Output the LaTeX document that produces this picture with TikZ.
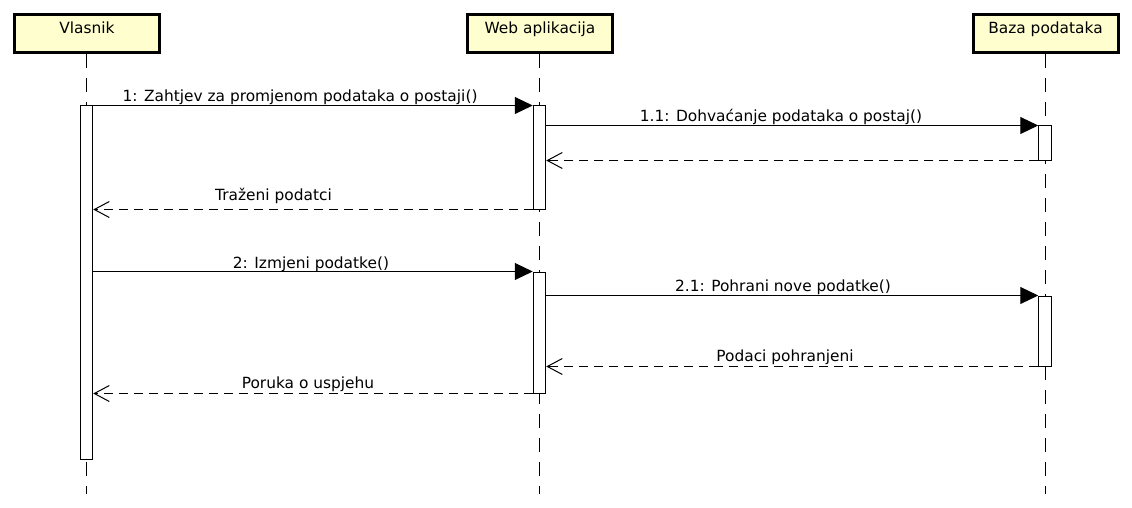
\documentclass[tikz,border=0pt]{standalone}
\usepackage{fontspec}
\setmainfont{DejaVu Sans}
\usetikzlibrary{arrows.meta}
\definecolor{headfill}{HTML}{FEFECE}
\begin{document}
\begin{tikzpicture}[x=1pt,y=-1pt,
  font=\fontsize{15.4}{18}\selectfont,
  actor/.style={draw, line width=3pt, fill=headfill, minimum width=145pt,
    minimum height=38pt, inner sep=0pt, text height=11pt, text depth=10pt},
  lifeline/.style={line width=1pt, dash pattern=on 14pt off 10pt},
  actbar/.style={draw, line width=1pt, fill=white, minimum width=12.5pt, inner sep=0pt},
  call/.style={line width=1pt, -{Triangle[length=18pt,width=17pt]}},
  reply/.style={line width=1pt, dash pattern=on 9pt off 6pt,
    -{Straight Barb[length=15pt,width=16pt,line width=1pt]}},
  msg/.style={anchor=base, inner sep=0pt}
]
\useasboundingbox (0,0) rectangle (1132,508);

% headers
\node[actor] (vl) at (87,33.5) {Vlasnik};
\node[actor] (wa) at (540,33.5) {Web aplikacija};
\node[actor] (bz) at (1045.5,33.5) {Baza podataka};

% lifelines
\coordinate (vlend) at (86.5,494);
\coordinate (waend) at (539.5,494);
\coordinate (bzend) at (1045.5,494);
\draw[lifeline] (vl.south -| vlend) -- (vlend);
\draw[lifeline] (wa.south -| waend) -- (waend);
\draw[lifeline] (bz.south -| bzend) -- (bzend);

% activation bars
\node[actbar, minimum height=353pt] (vlbar) at (86.5,282.5) {};
\node[actbar, minimum height=103pt] (wa1) at (539.5,157.5) {};
\node[actbar, minimum height=121pt] (wa2) at (539.5,332.5) {};
\node[actbar, minimum height=34pt] (bz1) at (1045,143) {};
\node[actbar, minimum height=70pt] (bz2) at (1045,331) {};

% messages
\draw[call] (vlbar.north east) -- (wa1.north west);
\node[msg] (l1) at (300,101.5) {1: Zahtjev za promjenom podataka o postaji()};

\draw[call] (wa1.east |- bz1.north west) -- (bz1.north west);
\node[msg] (l11) at (781,121.5) {1.1: Dohvaćanje podataka o postaj()};

\draw[reply] (bz1.south west) -- (wa1.east |- bz1.south west);

\draw[reply] (wa1.south west) -- (vlbar.east |- wa1.south west);
\node[msg] (l12) at (273.5,200) {Traženi podatci};

\draw[call] (vlbar.east |- wa2.north west) -- (wa2.north west);
\node[msg] (l2) at (311,268.5) {2: Izmjeni podatke()};

\draw[call] (wa2.east |- bz2.north west) -- (bz2.north west);
\node[msg] (l21) at (783,291.5) {2.1: Pohrani nove podatke()};

\draw[reply] (bz2.south west) -- (wa2.east |- bz2.south west);
\node[msg] (l22) at (785,361) {Podaci pohranjeni};

\draw[reply] (wa2.south west) -- (vlbar.east |- wa2.south west);
\node[msg] (l23) at (308,388.5) {Poruka o uspjehu};
\end{tikzpicture}
\end{document}
